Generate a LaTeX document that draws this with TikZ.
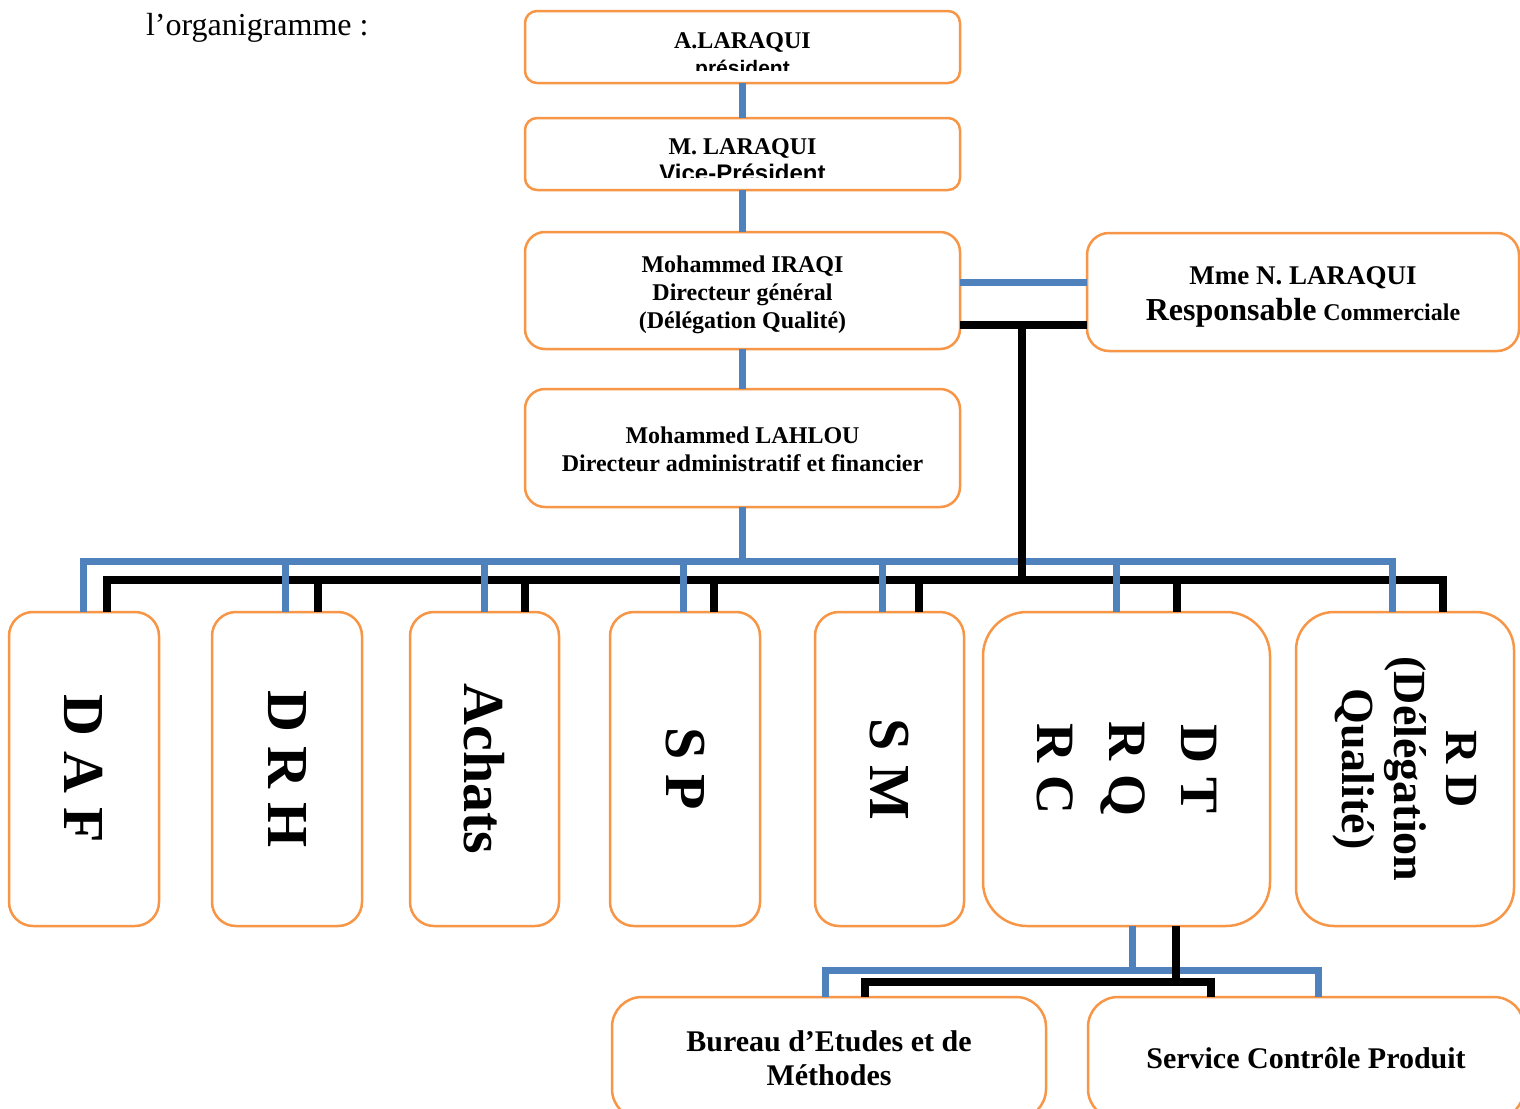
\documentclass[tikz,border=0pt]{standalone}
\usepackage{fontspec}
\setmainfont{Liberation Serif}
\setsansfont{Liberation Sans}
\usetikzlibrary{calc}
\definecolor{boxorange}{HTML}{F79646}
\definecolor{linkblue}{HTML}{4F81BD}
\tikzset{
	box/.style={draw=boxorange, line width=1.25pt, fill=white, inner sep=0pt, outer sep=0pt, align=center},
	sz/.style 2 args={minimum width=#1*0.5pt, minimum height=#2*0.5pt},
	toptext/.style={align=center, inner sep=0pt, font=\bfseries\fontsize{12}{13.5}\selectfont},
	vtext/.style={rotate=-90, align=center, inner sep=0pt, font=\bfseries\fontsize{29}{34}\selectfont},
	blueline/.style={linkblue, line width=3.5pt},
	blackline/.style={black, line width=4pt}
}

\begin{document}
\begin{tikzpicture}[x=0.5pt, y=-0.5pt]
\useasboundingbox (0,0) rectangle (1520,1108);

\node[anchor=base west, font=\fontsize{16}{19}\selectfont] (title) at (139,35) {l’organigramme :};

% direction
\node[box, sz={435}{72}, rounded corners=6pt] (pres) at (742.5,47) {};
\node[box, sz={435}{72}, rounded corners=6pt] (vp) at (742.5,154) {};
\begin{scope}
\clip (525,11) rectangle (960,70);
\node[toptext] (pres-txt) at (742.5,56.6) {A.LARAQUI\\{\sffamily\fontsize{10.5}{13.5}\selectfont président}};
\end{scope}
\begin{scope}
\clip (525,118) rectangle (960,177);
\node[toptext] (vp-txt) at (742.5,160) {M. LARAQUI\\{\sffamily\fontsize{12}{13.5}\selectfont Vice-Président}};
\end{scope}
\node[box, sz={435}{117}, rounded corners=10pt, font=\bfseries\fontsize{12}{14}\selectfont] (dg) at (742.5,290.5) {\rule{0pt}{12.2pt}Mohammed IRAQI\\Directeur général\\(Délégation Qualité)};
\node[box, sz={435}{118}, rounded corners=10pt, font=\bfseries\fontsize{12}{14}\selectfont] (lahlou) at (742.5,448) {\rule{0pt}{9.2pt}Mohammed LAHLOU\\Directeur administratif et financier};
\node[box, sz={432}{118}, rounded corners=11pt, font=\bfseries\fontsize{13.5}{18}\selectfont] (resp) at (1303,292) {\rule{0pt}{14.2pt}Mme N. LARAQUI\\{\fontsize{16}{18}\selectfont Responsable} {\fontsize{12}{18}\selectfont Commerciale}};

% services
\foreach \n/\x/\w in {daf/84/150, drh/287/150, achats/484.5/149, sp/685/150, sm/889.5/149}
	\node[box, sz={\w}{314}, rounded corners=12pt] (\n) at (\x,769) {};
\node[box, sz={287}{314}, rounded corners=22pt] (dtrq) at (1126.5,769) {};
\node[box, sz={218}{314}, rounded corners=19pt] (rd) at (1405,769) {};
\foreach \n/\t in {daf/D A F, drh/D R H, achats/Achats, sp/S P, sm/S M}
	\node[vtext] (\n-txt) at (\n) {\t};
\node[vtext, font=\bfseries\fontsize{27}{36}\selectfont] (dtrq-txt) at (dtrq) {D T\\R Q\\R C};
\node[vtext, font=\bfseries\fontsize{23}{26}\selectfont] (rd-txt) at (rd) {R D\\(Délégation\\Qualité)};

\node[box, sz={434}{122}, rounded corners=15pt, font=\bfseries\fontsize{15}{17}\selectfont] (bem) at (829,1058) {Bureau d’Etudes et de\\Méthodes};
\node[box, sz={436}{122}, rounded corners=15pt, font=\bfseries\fontsize{15}{17}\selectfont] (scp) at (1306,1058) {Service Contrôle Produit};

% liaisons
\draw[blueline] (pres.south) -- (vp.north);
\draw[blueline] (vp.south) -- (dg.north);
\draw[blueline] (dg.south) -- (lahlou.north);
\coordinate (dgb) at ($(dg.east)+(0,-8.5)$);
\draw[blueline] (dgb) -- (dgb -| resp.west);

\coordinate (hubb) at (742,561);
\coordinate (hubk) at (1022,580);
\foreach \n/\ko in {daf/23, drh/31, achats/40, sp/29, sm/29, dtrq/50, rd/38}
	\draw[blackline] ($(\n.north)+(\ko,0)$) |- (hubk);
\draw[blueline] (lahlou.south) -- (lahlou.south |- hubb);
\foreach \n/\bo in {daf/-1, drh/-2, achats/0, sp/-2, sm/-7, dtrq/-10, rd/-13}
	\draw[blueline] ($(\n.north)+(\bo,0)$) |- (hubb);
\coordinate (dgk) at ($(dg.east)+(0,34.5)$);
\draw[blackline] (dgk) -- (dgk -| resp.west);
\draw[blackline] (dgk -| hubk) -- (hubk);

\coordinate (hubb2) at ($(dtrq.south)+(5.5,44)$);
\draw[blueline] ($(dtrq.south)+(5.5,0)$) -- (hubb2);
\foreach \n/\bo in {bem/-4, scp/12}
	\draw[blueline] ($(\n.north)+(\bo,0)$) |- (hubb2);
\coordinate (hubk2) at ($(dtrq.south)+(49.5,56)$);
\draw[blackline] ($(dtrq.south)+(49.5,0)$) -- (hubk2);
\foreach \n/\ko in {bem/36, scp/-95}
	\draw[blackline] ($(\n.north)+(\ko,0)$) |- (hubk2);

\end{tikzpicture}
\end{document}
